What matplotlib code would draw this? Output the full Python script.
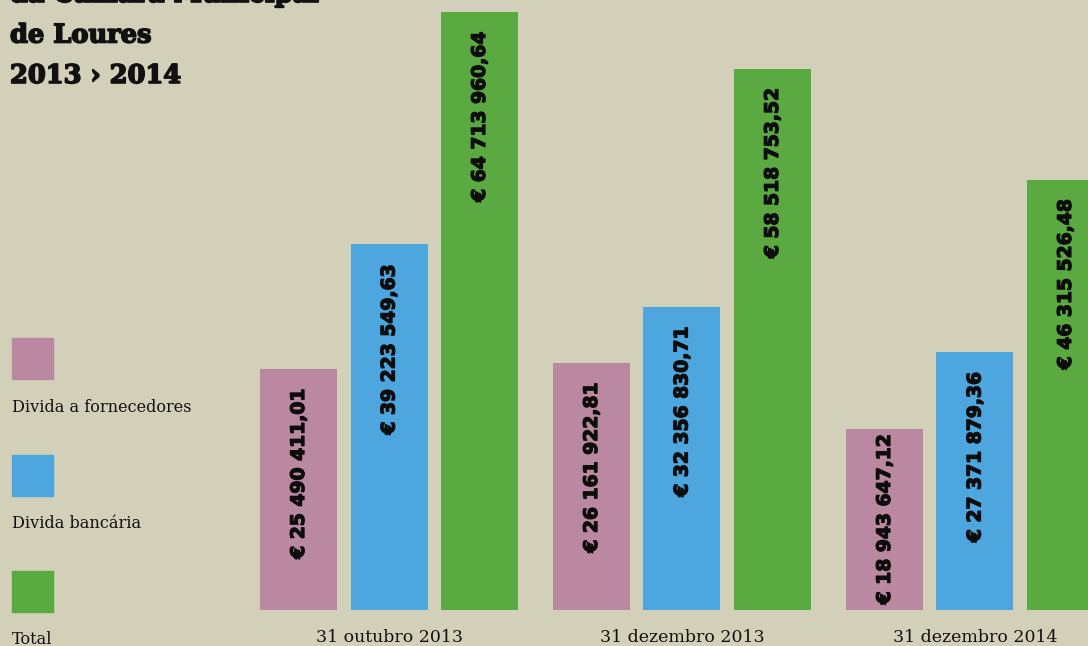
import matplotlib
matplotlib.use('Agg')
import matplotlib.pyplot as plt
import matplotlib.patheffects as pe
from matplotlib.patches import Rectangle

# dados (valores em euros)
datas = ['31 outubro 2013', '31 dezembro 2013', '31 dezembro 2014']
series = ['Divida a fornecedores', 'Divida bancária', 'Total']
fornecedores = [25490411.01, 26161922.81, 18943647.12]
bancaria = [39223549.63, 32356830.71, 27371879.36]
total = [64713960.64, 58518753.52, 46315526.48]
cores = ['#BB88A1', '#4DA6DD', '#5AAA41']
titulo = ['da Câmara Municipal', 'de Loures', '2013 › 2014']

fundo = '#D3D0BA'
W, H = 1088, 646


def euros(v):
    inteiro, dec = f'{v:.2f}'.split('.')
    grupos = []
    while inteiro:
        grupos.insert(0, inteiro[-3:])
        inteiro = inteiro[:-3]
    return '€ ' + ' '.join(grupos) + ',' + dec


fig = plt.figure(figsize=(W / 100, H / 100), dpi=100, facecolor=fundo)
ax = fig.add_axes([0, 36 / H, 1, 610 / H])
ax.set_facecolor(fundo)

base = -0.92e6  # as barras começam um pouco abaixo do zero no original
ax.set_xlim(0, W / 77)
ax.set_ylim(base, base + 610 / 9.11 * 1e6)

passo_grupo = 3.805
passo_barra = 1.175
x0 = 3.877
negrito = [pe.withStroke(linewidth=0.9, foreground='#0d0d0d')]

textos = []
for s, valores in enumerate([fornecedores, bancaria, total]):
    xs = [x0 + g * passo_grupo + s * passo_barra for g in range(len(datas))]
    barras = ax.bar(xs, [v - base for v in valores], bottom=base, width=1.0,
                    color=cores[s], zorder=2)
    for b, v in zip(barras, valores):
        t = ax.text(b.get_x() + b.get_width() / 2, v, euros(v), rotation=90,
                    ha='center', va='top', fontsize=13.5, fontweight='heavy',
                    family='DejaVu Sans', color='#0d0d0d', zorder=3,
                    path_effects=negrito)
        textos.append((t, v))

ax.set_xticks([x0 + g * passo_grupo + passo_barra for g in range(len(datas))])
ax.set_xticklabels(datas, fontsize=12.5, family='DejaVu Serif', color='#111111')
ax.tick_params(axis='x', length=0, pad=14)
ax.set_yticks([])
for lado in ax.spines.values():
    lado.set_visible(False)

# ajustar etiquetas: ~20px abaixo do topo, centradas se a barra for curta
fig.canvas.draw()
r = fig.canvas.get_renderer()
px_por_valor = 610 / (ax.get_ylim()[1] - ax.get_ylim()[0])
for t, v in textos:
    comp = t.get_window_extent(r).height
    alt = (v - base) * px_por_valor
    folga = min(20, (alt - comp) / 2)
    t.set_y(v - folga / px_por_valor)

# título
for i, linha in enumerate(titulo):
    fig.text(10 / W, 1 - (2 + i * 40.5) / H, linha, ha='left', va='baseline',
             fontsize=18.5, fontweight='bold', family='DejaVu Serif', color='#111111',
             path_effects=[pe.withStroke(linewidth=1.2, foreground='#111111')])

# legenda
for i, (nome, cor) in enumerate(zip(series, cores)):
    topo = 338 + i * 116.5
    fig.patches.append(Rectangle((12 / W, 1 - (topo + 41) / H), 41 / W, 41 / H,
                                 transform=fig.transFigure, color=cor))
    fig.text(12 / W, 1 - (topo + 69) / H, nome, ha='left', va='center',
             fontsize=11.6, family='DejaVu Serif', color='#111111')

fig.savefig('out.png', dpi=100, facecolor=fundo)
